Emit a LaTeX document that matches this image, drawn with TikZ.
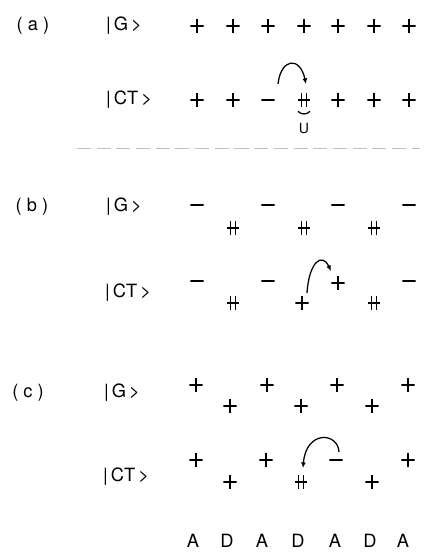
\documentclass[tikz,border=0pt]{standalone}
\usepackage{fontspec}
\setmainfont{TeX Gyre Heros}
\usetikzlibrary{arrows.meta}

\begin{document}
\begin{tikzpicture}[x=0.025cm, y=-0.025cm,
  sym/.style={line width=1.15pt},
  site/.style={inner sep=0pt, minimum width=0.33cm, minimum height=0.35cm},
  hole/.style={site, path picture={\draw[sym] (path picture bounding box.west) -- (path picture bounding box.east);}},
  spin/.style={site, path picture={\draw[sym] (path picture bounding box.west) -- (path picture bounding box.east) (path picture bounding box.north) -- (path picture bounding box.south);}},
  pair/.style={site, minimum width=0.31cm, path picture={\draw[sym] (path picture bounding box.west) -- (path picture bounding box.east) ([xshift=-0.065cm]path picture bounding box.north) -- ([xshift=-0.065cm]path picture bounding box.south) ([xshift=0.065cm]path picture bounding box.north) -- ([xshift=0.065cm]path picture bounding box.south);}},
  lbl/.style={inner sep=0pt, font=\fontsize{13}{15}\selectfont},
  hop/.style={-{Latex[length=4pt, width=3.5pt]}, line width=0.9pt},
  sep/.style={gray!50, line width=0.6pt, dash pattern=on 10pt off 4pt}]
\useasboundingbox (0,0) rectangle (426,553);
% (a)
\node[lbl] (pa) at (33,26) {( a )};
\node[lbl] (ga) at (124,26) {|\,G\,>};
\node[spin] (ag1) at (197,26) {};
\node[spin] (ag2) at (233,26) {};
\node[spin] (ag3) at (268,26) {};
\node[spin] (ag4) at (304,26) {};
\node[spin] (ag5) at (338,26) {};
\node[spin] (ag6) at (374,26) {};
\node[spin] (ag7) at (409,26) {};
\node[lbl] (cta) at (129,100) {|\,CT\,>};
\node[spin] (act1) at (197,100) {};
\node[spin] (act2) at (233,100) {};
\node[hole] (act3) at (268,100) {};
\node[pair] (act4) at (304,100) {};
\node[spin] (act5) at (338,100) {};
\node[spin] (act6) at (374,100) {};
\node[spin] (act7) at (409,100) {};
\node[inner sep=0pt, font=\fontsize{10}{12}\selectfont] (hubU) at (304,128) {U};
\draw[hop] ([shift={(10,-16)}]act3.center) .. controls +(3,-26) and +(-6,-28) .. ([shift={(2,-16)}]act4.center);
\draw[line width=0.9pt] ([shift={(-6,4)}]act4.south) to[bend right=50] ([shift={(6,4)}]act4.south);
\draw[sep] (77,148) -- (420,148);
% (b)
\node[lbl] (pb) at (32,207) {( b )};
\node[lbl] (gb) at (124,207) {|\,G\,>};
\node[hole] (bg1) at (197,205) {};
\node[pair] (bg2) at (233,228) {};
\node[hole] (bg3) at (268,205) {};
\node[pair] (bg4) at (304,228) {};
\node[hole] (bg5) at (338,205) {};
\node[pair] (bg6) at (374,228) {};
\node[hole] (bg7) at (409,205) {};
\node[lbl] (ctb) at (128,293) {|\,CT\,>};
\node[hole] (bct1) at (197,281) {};
\node[pair] (bct2) at (233,303) {};
\node[hole] (bct3) at (268,281) {};
\node[spin] (bct4) at (302,303) {};
\node[spin] (bct5) at (338,283) {};
\node[pair] (bct6) at (374,303) {};
\node[hole] (bct7) at (409,281) {};
\draw[hop] ([shift={(5,-10)}]bct4.center) .. controls +(2,-31) and +(-9,-19) .. ([shift={(-7,-12)}]bct5.center);
% (c)
\node[lbl] (pc) at (28,393) {( c )};
\node[lbl] (gc) at (122,393) {|\,G\,>};
\node[spin] (cg1) at (196,385) {};
\node[spin] (cg2) at (230,406) {};
\node[spin] (cg3) at (267,385) {};
\node[spin] (cg4) at (301,406) {};
\node[spin] (cg5) at (337,385) {};
\node[spin] (cg6) at (372,406) {};
\node[spin] (cg7) at (408,385) {};
\node[lbl] (ctc) at (126,477) {|\,CT\,>};
\node[spin] (cct1) at (196,460) {};
\node[spin] (cct2) at (230,482) {};
\node[spin] (cct3) at (266,460) {};
\node[pair] (cct4) at (301,482) {};
\node[hole] (cct5) at (336,460) {};
\node[spin] (cct6) at (372,482) {};
\node[spin] (cct7) at (408,460) {};
\draw[hop] ([shift={(3,-8)}]cct5.center) .. controls +(-1,-20) and +(3,-38) .. ([shift={(2,-14)}]cct4.center);
% acceptor / donor sites
\node[lbl] (t1) at (193,541) {A};
\node[lbl] (t2) at (227,541) {D};
\node[lbl] (t3) at (262,541) {A};
\node[lbl] (t4) at (298,541) {D};
\node[lbl] (t5) at (335,541) {A};
\node[lbl] (t6) at (370,541) {D};
\node[lbl] (t7) at (403,541) {A};
\end{tikzpicture}
\end{document}
